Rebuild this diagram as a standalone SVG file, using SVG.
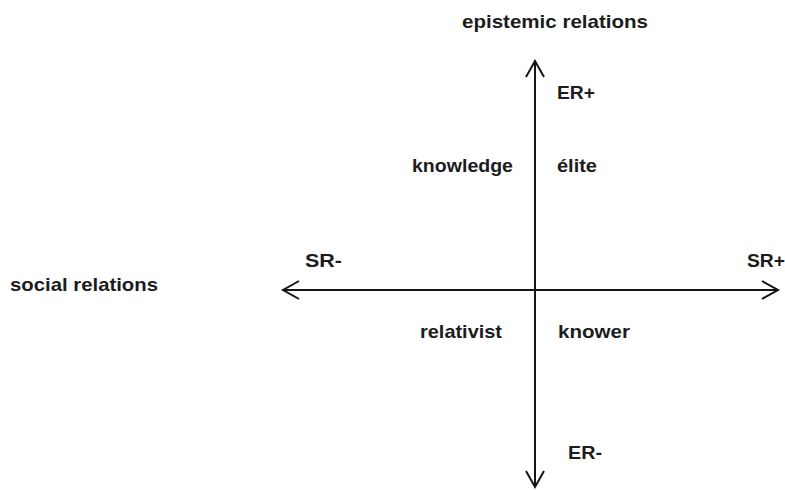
<svg xmlns="http://www.w3.org/2000/svg" width="785" height="490" viewBox="0 0 785 490">
  <style>
    .lbl { font-family: "Liberation Sans", Arial, sans-serif; font-size: 19px; font-weight: bold; fill: #1c1c1c; }
    .axis { stroke: #151515; stroke-width: 2; fill: none; }
  </style>
  <defs>
    <marker id="arr" markerUnits="userSpaceOnUse" markerWidth="40" markerHeight="40" refX="0" refY="0" viewBox="-20 -20 40 40" orient="auto-start-reverse" overflow="visible">
      <path d="M-16,-9 L0,0 L-16,9" stroke="#151515" stroke-width="2" fill="none" stroke-linejoin="miter"/>
    </marker>
  </defs>
  <rect width="785" height="490" fill="#ffffff"/>
  <g id="connectors">
    <line class="axis" x1="535" y1="61" x2="535" y2="487" marker-start="url(#arr)" marker-end="url(#arr)"/>
    <line class="axis" x1="283" y1="290" x2="778" y2="290" marker-start="url(#arr)" marker-end="url(#arr)"/>
  </g>
  <g id="epistemic-relations"><text class="lbl" x="462" y="28" textLength="186" lengthAdjust="spacingAndGlyphs">epistemic relations</text></g>
  <g id="er-plus"><text class="lbl" x="557" y="99" textLength="38" lengthAdjust="spacingAndGlyphs">ER+</text></g>
  <g id="knowledge"><text class="lbl" x="412" y="172" textLength="101" lengthAdjust="spacingAndGlyphs">knowledge</text></g>
  <g id="elite"><text class="lbl" x="557" y="172" textLength="40" lengthAdjust="spacingAndGlyphs">élite</text></g>
  <g id="sr-minus"><text class="lbl" x="305" y="267" textLength="37" lengthAdjust="spacingAndGlyphs">SR-</text></g>
  <g id="sr-plus"><text class="lbl" x="747" y="267" textLength="38" lengthAdjust="spacingAndGlyphs">SR+</text></g>
  <g id="social-relations"><text class="lbl" x="10" y="291" textLength="148" lengthAdjust="spacingAndGlyphs">social relations</text></g>
  <g id="relativist"><text class="lbl" x="420" y="338" textLength="82" lengthAdjust="spacingAndGlyphs">relativist</text></g>
  <g id="knower"><text class="lbl" x="558" y="338" textLength="72" lengthAdjust="spacingAndGlyphs">knower</text></g>
  <g id="er-minus"><text class="lbl" x="568" y="459" textLength="34" lengthAdjust="spacingAndGlyphs">ER-</text></g>
</svg>
